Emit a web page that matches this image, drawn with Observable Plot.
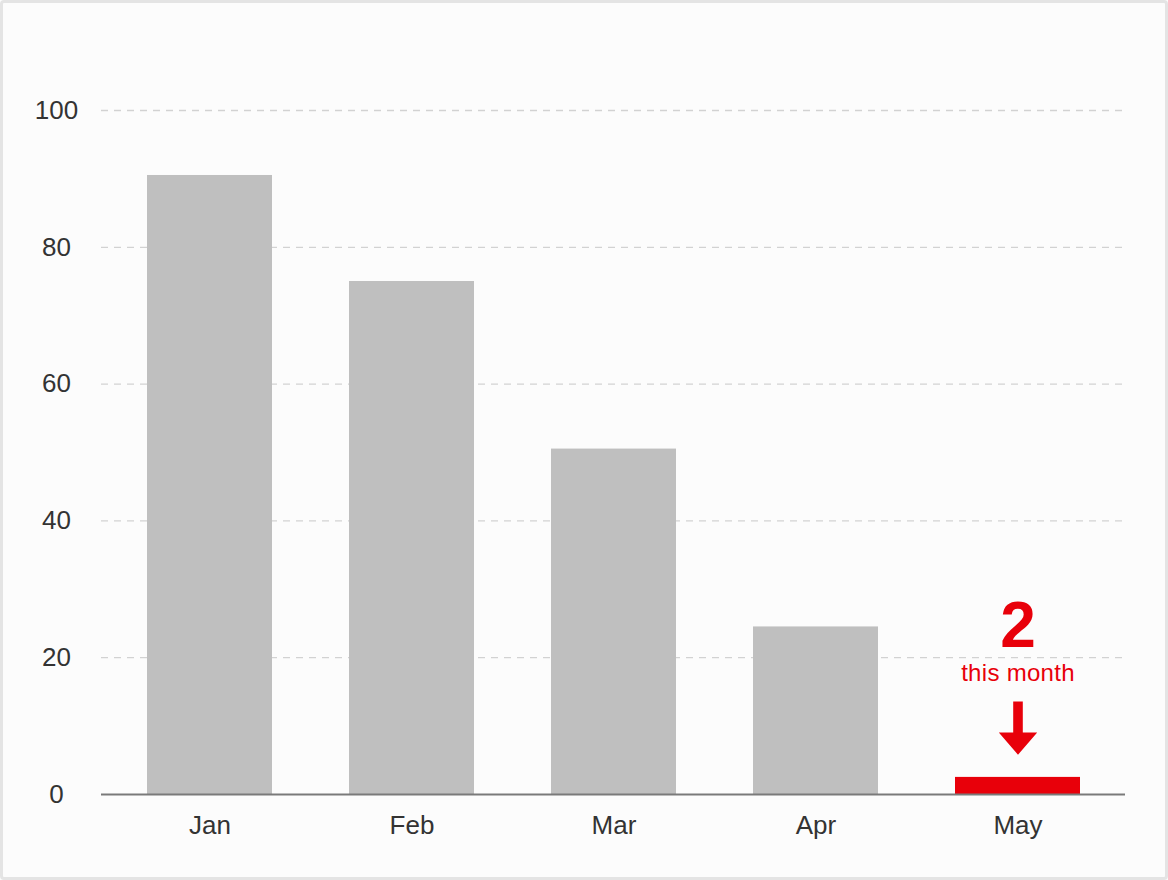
<!DOCTYPE html>
<html>
<head>
<meta charset="utf-8">
<script src="https://cdn.jsdelivr.net/npm/d3@7"></script>
<script src="https://cdn.jsdelivr.net/npm/@observablehq/plot@0.6"></script>
<style>
  html, body { margin: 0; padding: 0; background: #fcfcfc; }
  #wrap { position: relative; width: 1168px; height: 880px; overflow: hidden; }
  #chart { position: absolute; left: 0; top: 0; }
  #frame { position: absolute; left: 0; top: 0; width: 1168px; height: 880px; box-sizing: border-box;
           border: 3px solid #e4e4e4; border-radius: 4px; pointer-events: none; }
</style>
</head>
<body>
<div id="wrap"><div id="chart"></div><div id="frame"></div></div>
<script>
// Data
const months = ["Jan", "Feb", "Mar", "Apr", "May"];
const values = [90.5, 75, 50.5, 24.5, 2.5];
const highlight = [false, false, false, false, true];
const yTicks = [0, 20, 40, 60, 80, 100];
const calloutValue = "2";
const calloutLabel = "this month";

const GREY = "#bfbfbf";
const RED = "#e8000a";

const data = months.map((m, i) => ({month: m, value: values[i], hl: highlight[i]}));
const current = data.filter(d => d.hl);

// Custom arrow symbol (shaft + filled head), drawn relative to the bar top
const arrowSymbol = {
  draw(ctx) {
    ctx.moveTo(-4.8, -76);
    ctx.lineTo(4.8, -76);
    ctx.lineTo(4.8, -45);
    ctx.lineTo(19.2, -45);
    ctx.lineTo(0, -22.7);
    ctx.lineTo(-19.2, -45);
    ctx.lineTo(-4.8, -45);
    ctx.closePath();
  }
};

const chart = Plot.plot({
  width: 1168,
  height: 880,
  marginLeft: 101,
  marginRight: 43,
  marginTop: 110,
  marginBottom: 86,
  style: {fontFamily: "'Liberation Sans', Arial, Helvetica, sans-serif", fontSize: "26px", color: "#333", background: "transparent"},
  x: {domain: months, paddingInner: 0.382, paddingOuter: 0.222, label: null},
  y: {domain: [0, 100], label: null},
  marks: [
    Plot.gridY(yTicks.filter(t => t > 0), {stroke: "#d2d2d2", strokeOpacity: 1, strokeWidth: 1.3, strokeDasharray: "7,6"}),
    Plot.barY(data, {x: "month", y: "value", fill: d => d.hl ? RED : GREY}),
    Plot.ruleY([0], {stroke: "#7a7a7a", strokeWidth: 2}),
    Plot.axisX({tickSize: 0, tickPadding: 21, fill: "#333"}),
    Plot.axisY({ticks: yTicks, tickSize: 0, tickPadding: 45, textAnchor: "middle", fill: "#333"}),
    Plot.dot(current, {x: "month", y: "value", symbol: arrowSymbol, fill: RED, stroke: null, r: 10}),
    Plot.text(current, {x: "month", y: "value", text: () => calloutValue, fill: RED, fontSize: 64, fontWeight: "bold", lineAnchor: "bottom", dy: -130}),
    Plot.text(current, {x: "month", y: "value", text: () => calloutLabel, fill: RED, fontSize: 24, lineAnchor: "bottom", dy: -96, className: "callout-label"})
  ]
});

document.getElementById("chart").appendChild(chart);
d3.select(chart).selectAll(".callout-label text").style("letter-spacing", "0.3px");
</script>
</body>
</html>
